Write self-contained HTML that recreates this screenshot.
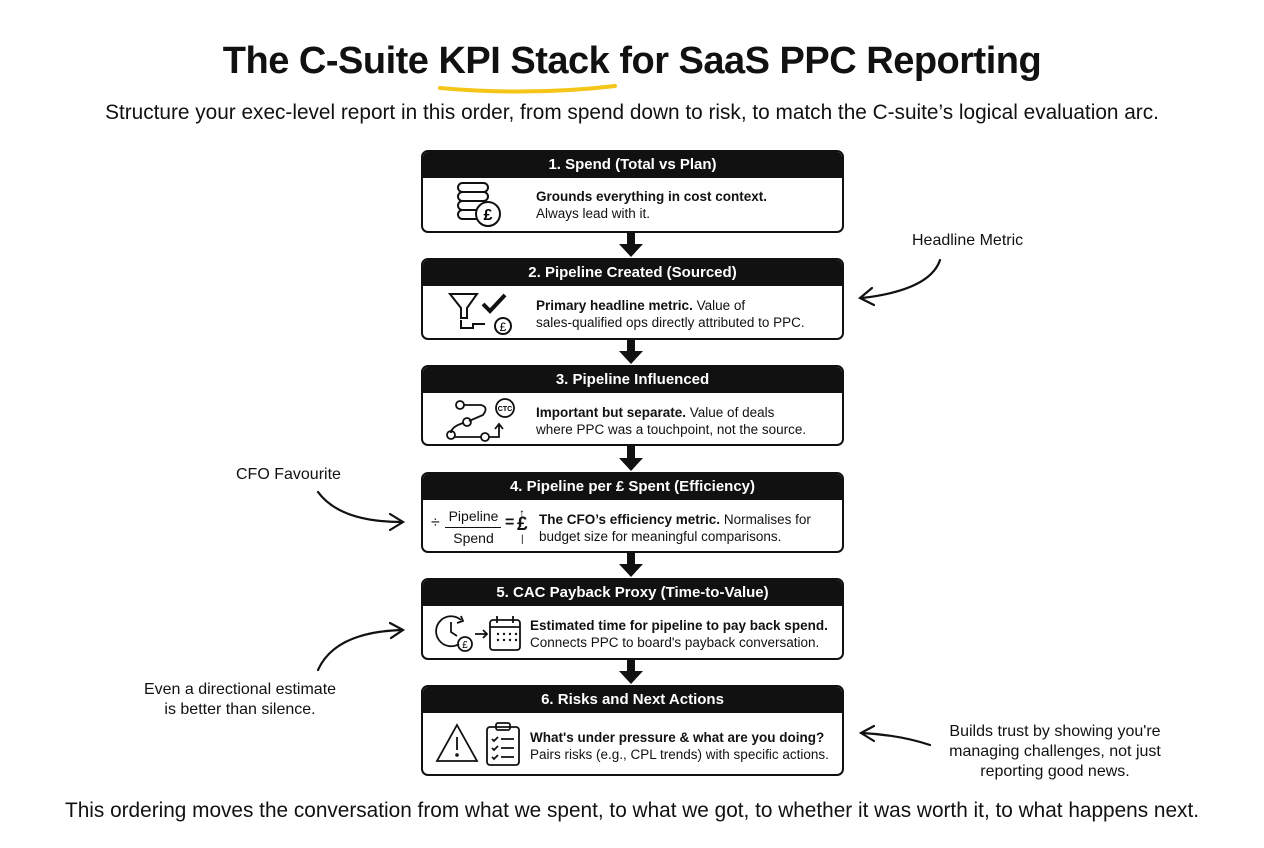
<!DOCTYPE html>
<html><head><meta charset="utf-8"><style>
body{margin:0;width:1264px;height:848px;background:#fff;font-family:"Liberation Sans",sans-serif;color:#111;position:relative;overflow:hidden}
.t{position:absolute;white-space:nowrap}
.box{position:absolute;left:421px;width:419px;border:2px solid #111;border-radius:7px;background:#fff;overflow:hidden}
.hd{background:#111;color:#fff;font-weight:bold;font-size:15px;text-align:center;height:26px;line-height:26px}
.bd{position:absolute;left:113px;font-size:13.5px;line-height:17px}
.ic{position:absolute;left:10px}
</style></head><body>
<div class="t" style="left:0;width:1264px;text-align:center;top:40px;font-size:38px;font-weight:bold;letter-spacing:-0.5px">The C-Suite KPI Stack for SaaS PPC Reporting</div>
<svg style="position:absolute;left:0;top:0" width="1264" height="848">
<path d="M440 88 Q530 96 615 86" stroke="#f5c518" stroke-width="4" fill="none" stroke-linecap="round"/>
<g fill="#111">
<rect x="627" y="232" width="8" height="12"/><polygon points="619,244 643,244 631,257"/>
<rect x="627" y="339" width="8" height="13"/><polygon points="619,351 643,351 631,364"/>
<rect x="627" y="445" width="8" height="13"/><polygon points="619,458 643,458 631,471"/>
<rect x="627" y="552" width="8" height="13"/><polygon points="619,564 643,564 631,577"/>
<rect x="627" y="659" width="8" height="13"/><polygon points="619,671 643,671 631,684"/>
</g>
<g stroke="#111" stroke-width="2.2" fill="none" stroke-linecap="round">
<path d="M940 260 Q930 290 862 298"/><path d="M872 288 L860 298 L874 305"/>
<path d="M318 492 Q340 522 402 522"/><path d="M390 514 L403 522 L390 530"/>
<path d="M318 670 Q335 632 402 630"/><path d="M390 623 L403 630 L391 638"/>
<path d="M930 745 Q900 735 862 733"/><path d="M874 726 L861 733 L874 741"/>
</g>
</svg>
<div class="t" style="left:0;width:1264px;text-align:center;top:101px;font-size:20.8px">Structure your exec-level report in this order, from spend down to risk, to match the C-suite’s logical evaluation arc.</div>

<div class="box" style="top:150px;height:79px"><div class="hd">1. Spend (Total vs Plan)</div>
<svg class="ic" style="top:28px;left:32px" width="50" height="50"><g stroke="#111" stroke-width="2" fill="#fff"><rect x="3" y="3" width="30" height="9" rx="4.5"/><rect x="3" y="12" width="30" height="9" rx="4.5"/><rect x="3" y="21" width="30" height="9" rx="4.5"/><rect x="3" y="30" width="30" height="9" rx="4.5"/><circle cx="33" cy="34" r="12"/></g><text x="33" y="40" font-size="16" font-weight="bold" text-anchor="middle" font-family="Liberation Sans">£</text></svg>
<div class="bd" style="top:36px"><b>Grounds everything in cost context.</b><br>Always lead with it.</div></div>

<div class="box" style="top:258px;height:78px"><div class="hd">2. Pipeline Created (Sourced)</div>
<svg class="ic" style="top:30px;left:24px" width="70" height="48"><g stroke="#111" stroke-width="2" fill="none"><path d="M3 4 H30 L20 18 V28 H14 V18 Z"/><path d="M14 30 V38 H26 V34 H38"/><circle cx="56" cy="36" r="8"/></g><path d="M36 14 L43 21 L58 5" stroke="#111" stroke-width="4" fill="none"/><text x="56" y="41" font-size="12" text-anchor="middle" font-family="Liberation Sans">£</text></svg>
<div class="bd" style="top:37px"><b>Primary headline metric.</b> Value of<br>sales-qualified ops directly attributed to PPC.</div></div>

<div class="box" style="top:365px;height:77px"><div class="hd">3. Pipeline Influenced</div>
<svg class="ic" style="top:30px;left:20px" width="80" height="46"><g stroke="#111" stroke-width="1.8" fill="none"><circle cx="17" cy="8" r="4"/><path d="M21 8 H38 Q46 10 40 18 L26 24"/><circle cx="24" cy="25" r="4"/><path d="M20 26 Q8 30 8 36"/><circle cx="8" cy="38" r="4"/><path d="M12 40 H38"/><circle cx="42" cy="40" r="4"/><path d="M46 40 H56 V28 M52 32 L56 27 L60 32"/><circle cx="62" cy="11" r="9"/></g><text x="62" y="14" font-size="7" text-anchor="middle" font-family="Liberation Sans" font-weight="bold">CTC</text></svg>
<div class="bd" style="top:37px"><b>Important but separate.</b> Value of deals<br>where PPC was a touchpoint, not the source.</div></div>

<div class="box" style="top:472px;height:77px"><div class="hd">4. Pipeline per £ Spent (Efficiency)</div>
<div class="t" style="left:8px;top:40px;font-size:16px">÷</div>
<div class="t" style="left:23px;top:34px;font-size:14px;text-align:center;width:55px">Pipeline</div>
<div style="position:absolute;left:22px;top:53px;width:56px;border-top:1.5px solid #111"></div>
<div class="t" style="left:23px;top:56px;font-size:14px;text-align:center;width:55px">Spend</div>
<div class="t" style="left:82px;top:40px;font-size:16px;font-weight:bold">=</div>
<div class="t" style="left:96px;top:32px;font-size:12px;font-weight:bold">↑</div>
<div class="t" style="left:94px;top:40px;font-size:19px;font-weight:bold">£</div>
<div class="t" style="left:98px;top:60px;font-size:10px">|</div>
<div class="bd" style="top:37px;left:116px"><b>The CFO’s efficiency metric.</b> Normalises for<br>budget size for meaningful comparisons.</div></div>

<div class="box" style="top:578px;height:78px"><div class="hd">5. CAC Payback Proxy (Time-to-Value)</div>
<svg class="ic" style="top:32px;left:12px" width="90" height="42"><g stroke="#111" stroke-width="1.8" fill="none"><path d="M26 8 A15 15 0 1 0 24 32"/><path d="M16 10 V20 L22 24"/><path d="M26 4 L28 9 L22 11"/><circle cx="30" cy="32" r="7"/><path d="M40 22 H52 M48 18 L52 22 L48 26"/><rect x="55" y="8" width="30" height="30" rx="3"/><path d="M55 15 H85 M62 4 V11 M78 4 V11"/></g><text x="30" y="36" font-size="10" text-anchor="middle" font-family="Liberation Sans">£</text><g fill="#111"><circle cx="63" cy="22" r="1.2"/><circle cx="69" cy="22" r="1.2"/><circle cx="75" cy="22" r="1.2"/><circle cx="63" cy="28" r="1.2"/><circle cx="69" cy="28" r="1.2"/><circle cx="75" cy="28" r="1.2"/><circle cx="81" cy="22" r="1.2"/><circle cx="81" cy="28" r="1.2"/></g></svg>
<div class="bd" style="top:37px;left:107px"><b>Estimated time for pipeline to pay back spend.</b><br>Connects PPC to board's payback conversation.</div></div>

<div class="box" style="top:685px;height:87px"><div class="hd">6. Risks and Next Actions</div>
<svg class="ic" style="top:32px;left:10px" width="90" height="50"><g stroke="#111" stroke-width="1.8" fill="none"><path d="M24 6 L44 42 H4 Z"/><path d="M24 18 V31"/><rect x="54" y="8" width="32" height="38" rx="3"/><rect x="63" y="4" width="14" height="7" rx="2"/><path d="M59 20 L61 22 L65 18 M68 20 H81 M59 29 L61 31 L65 27 M68 29 H81 M59 38 L61 40 L65 36 M68 38 H81"/></g><circle cx="24" cy="36" r="1.8" fill="#111"/></svg>
<div class="bd" style="top:42px;left:107px"><b>What's under pressure &amp; what are you doing?</b><br>Pairs risks (e.g., CPL trends) with specific actions.</div></div>

<div class="t" style="left:912px;top:232px;font-size:16px">Headline Metric</div>
<div class="t" style="left:236px;top:466px;font-size:16px">CFO Favourite</div>
<div class="t" style="left:100px;top:680px;font-size:16px;text-align:center;width:280px;line-height:20px;white-space:normal">Even a directional estimate<br>is better than silence.</div>
<div class="t" style="left:920px;top:722px;font-size:16px;text-align:center;width:270px;line-height:20px">Builds trust by showing you're<br>managing challenges, not just<br>reporting good news.</div>
<div class="t" style="left:0;width:1264px;text-align:center;top:799px;font-size:20.8px">This ordering moves the conversation from what we spent, to what we got, to whether it was worth it, to what happens next.</div>
</body></html>
